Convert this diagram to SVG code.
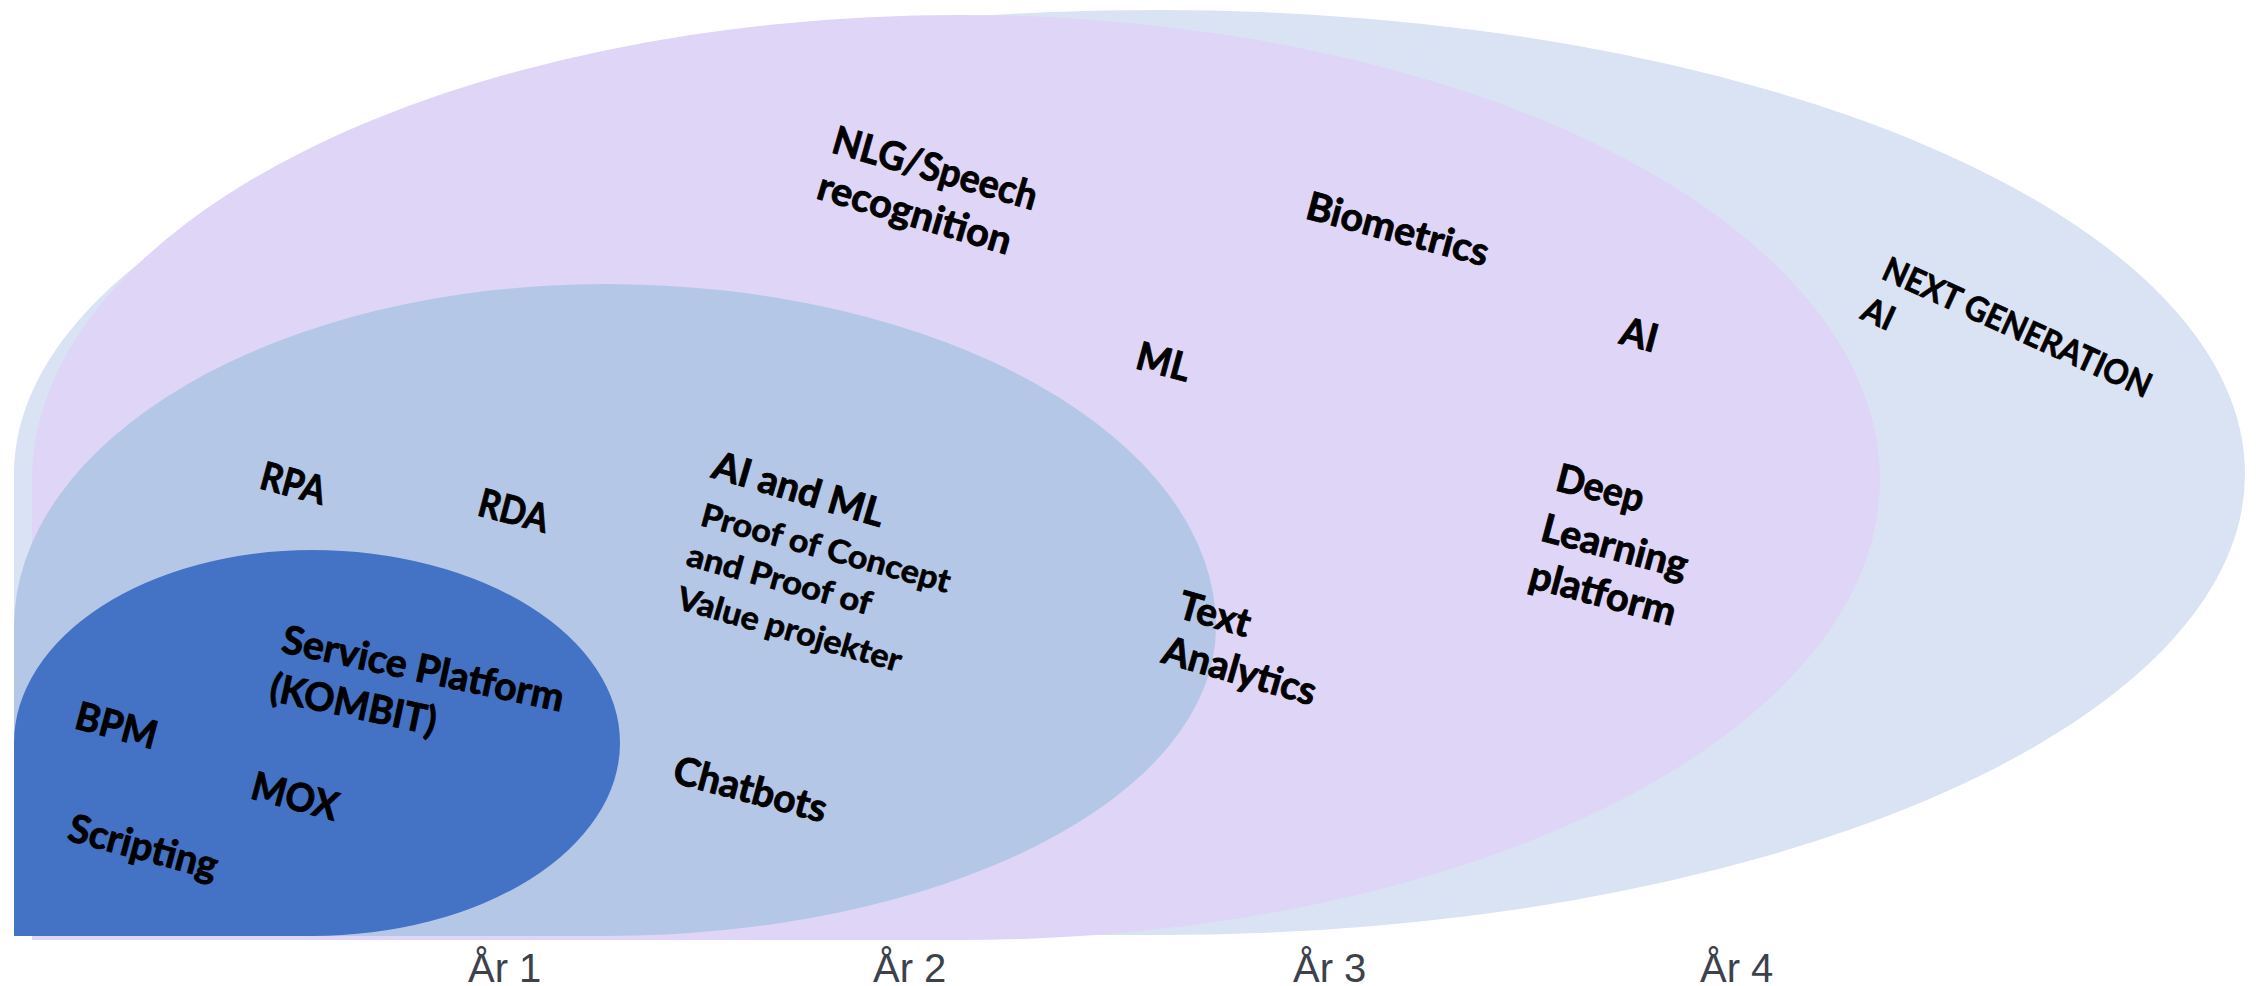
<svg xmlns="http://www.w3.org/2000/svg" width="2262" height="986" viewBox="0 0 2262 986">
  <style>
    .lbl { font-family: Lato, "Liberation Sans", sans-serif; font-weight: 700; font-size: 39px; fill: #000; stroke: #000; stroke-width: 0.9px; }
    .sm { font-size: 32px; stroke-width: 0.7px; }
    .xs { font-size: 34px; stroke-width: 0.7px; }
    .axis { font-family: "Liberation Sans", Arial, sans-serif; font-size: 40px; fill: #3b424c; }
    .z4 { fill: #dae3f3; }
    .z3 { fill: #ded5f7; }
    .z2 { fill: #b4c7e7; }
    .z1 { fill: #4472c4; }
  </style>

  <!-- maturity zones, outermost first; each has a square bottom-left corner -->
  <g id="zone-next-generation">
    <path class="z4" d="M14,935 L14,474 A1145,464 0 0 1 1159,10 A1086,464 0 0 1 2245,474 A1086,461 0 0 1 1159,935 Z"/>
  </g>
  <g id="zone-year3">
    <path class="z3" d="M32,940 L32,480 A928,465 0 0 1 960,15 A920,465 0 0 1 1880,480 A920,460 0 0 1 960,940 Z"/>
  </g>
  <g id="zone-year2">
    <path class="z2" d="M14,936 L14,627 A591,343 0 0 1 605,284 A611,343 0 0 1 1216,627 A611,309 0 0 1 605,936 Z"/>
  </g>
  <g id="zone-year1">
    <path class="z1" d="M14,936 L14,743 A298,193 0 0 1 312,550 A308,193 0 0 1 620,743 A308,193 0 0 1 312,936 Z"/>
  </g>

  <!-- labels inside the zones -->
  <g id="node-nlg">
    <text class="lbl" transform="translate(830,152) rotate(16)" textLength="211" lengthAdjust="spacingAndGlyphs">NLG/Speech</text>
    <text class="lbl" transform="translate(815,198) rotate(16.5)" textLength="200" lengthAdjust="spacingAndGlyphs">recognition</text>
  </g>
  <g id="node-biometrics">
    <text class="lbl" transform="translate(1304,218) rotate(15)" textLength="187" lengthAdjust="spacingAndGlyphs">Biometrics</text>
  </g>
  <g id="node-ml">
    <text class="lbl" transform="translate(1134,368) rotate(15)" textLength="54" lengthAdjust="spacingAndGlyphs">ML</text>
  </g>
  <g id="node-ai">
    <text class="lbl" transform="translate(1618,343) rotate(15)" textLength="37" lengthAdjust="spacingAndGlyphs">AI</text>
  </g>
  <g id="node-next-gen-ai">
    <text class="lbl xs" transform="translate(1880,278) rotate(24.4)" textLength="291" lengthAdjust="spacingAndGlyphs">NEXT GENERATION</text>
    <text class="lbl xs" transform="translate(1859,318) rotate(24.4)" textLength="32" lengthAdjust="spacingAndGlyphs">AI</text>
  </g>
  <g id="node-rpa">
    <text class="lbl" transform="translate(258,488) rotate(15)" textLength="66" lengthAdjust="spacingAndGlyphs">RPA</text>
  </g>
  <g id="node-rda">
    <text class="lbl" transform="translate(476,515) rotate(14.6)" textLength="71" lengthAdjust="spacingAndGlyphs">RDA</text>
  </g>
  <g id="node-poc">
    <text class="lbl" transform="translate(710,477) rotate(16.5)" textLength="177" lengthAdjust="spacingAndGlyphs">AI and ML</text>
    <text class="lbl sm" transform="translate(699,525) rotate(15.3)" textLength="257" lengthAdjust="spacingAndGlyphs">Proof of Concept</text>
    <text class="lbl sm" transform="translate(685,565) rotate(15.3)" textLength="190" lengthAdjust="spacingAndGlyphs">and Proof of</text>
    <text class="lbl sm" transform="translate(675,608) rotate(16)" textLength="232" lengthAdjust="spacingAndGlyphs">Value projekter</text>
  </g>
  <g id="node-text-analytics">
    <text class="lbl" transform="translate(1176,617) rotate(16)" textLength="73" lengthAdjust="spacingAndGlyphs">Text</text>
    <text class="lbl" transform="translate(1160,662) rotate(16)" textLength="158" lengthAdjust="spacingAndGlyphs">Analytics</text>
  </g>
  <g id="node-deep-learning">
    <text class="lbl" transform="translate(1554,490) rotate(14.5)" textLength="89" lengthAdjust="spacingAndGlyphs">Deep</text>
    <text class="lbl" transform="translate(1539,540) rotate(15)" textLength="150" lengthAdjust="spacingAndGlyphs">Learning</text>
    <text class="lbl" transform="translate(1527,587) rotate(15)" textLength="150" lengthAdjust="spacingAndGlyphs">platform</text>
  </g>
  <g id="node-service-platform">
    <text class="lbl" transform="translate(280,652) rotate(12)" textLength="287" lengthAdjust="spacingAndGlyphs">Service Platform</text>
    <text class="lbl" transform="translate(268,700) rotate(12)" textLength="169" lengthAdjust="spacingAndGlyphs">(KOMBIT)</text>
  </g>
  <g id="node-bpm">
    <text class="lbl" transform="translate(73,728) rotate(15)" textLength="83" lengthAdjust="spacingAndGlyphs">BPM</text>
  </g>
  <g id="node-mox">
    <text class="lbl" transform="translate(249,798) rotate(15)" textLength="88" lengthAdjust="spacingAndGlyphs">MOX</text>
  </g>
  <g id="node-scripting">
    <text class="lbl" transform="translate(66,840) rotate(15)" textLength="153" lengthAdjust="spacingAndGlyphs">Scripting</text>
  </g>
  <g id="node-chatbots">
    <text class="lbl" transform="translate(671,782) rotate(15)" textLength="157" lengthAdjust="spacingAndGlyphs">Chatbots</text>
  </g>

  <!-- timeline -->
  <g id="axis">
    <text class="axis" x="468" y="982">År 1</text>
    <text class="axis" x="873" y="982">År 2</text>
    <text class="axis" x="1293" y="982">År 3</text>
    <text class="axis" x="1700" y="982">År 4</text>
  </g>
</svg>
